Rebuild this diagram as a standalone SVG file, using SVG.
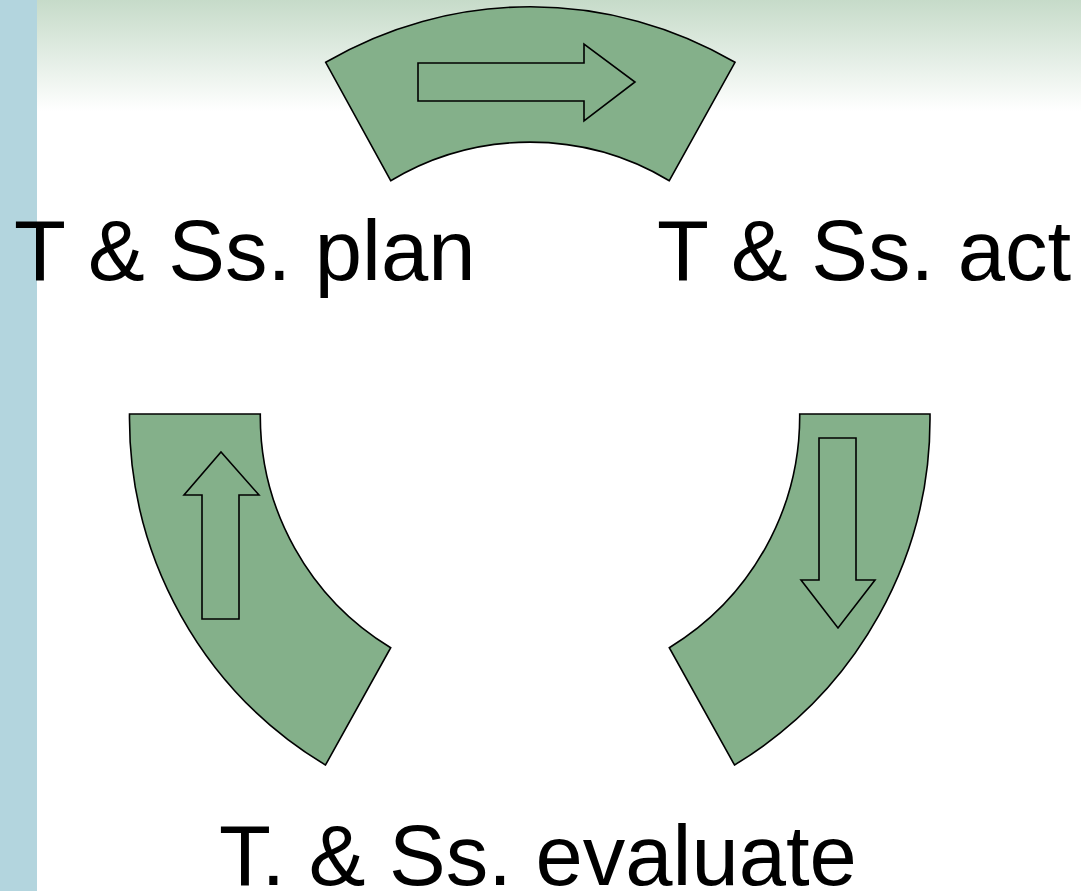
<svg xmlns="http://www.w3.org/2000/svg" width="1081" height="891" viewBox="0 0 1081 891">
  <defs>
    <linearGradient id="topWash" x1="0" y1="0" x2="0" y2="1">
      <stop offset="0" stop-color="#c6dbc9"/>
      <stop offset="1" stop-color="#ffffff"/>
    </linearGradient>
    <style>
      .segment { fill: #84b08a; stroke: #000; stroke-width: 1.6; stroke-linejoin: miter; }
      .arrow { fill: #84b08a; stroke: #000; stroke-width: 1.6; stroke-linejoin: miter; }
      .label { font-family: "Liberation Sans", Arial, sans-serif; font-size: 85px; fill: #000; }
    </style>
  </defs>

  <!-- background -->
  <rect x="0" y="0" width="1081" height="891" fill="#ffffff"/>
  <rect x="0" y="0" width="1081" height="112" fill="url(#topWash)"/>
  <rect x="0" y="0" width="37" height="891" fill="#b3d5de"/>

  <!-- top segment: plan -> act -->
  <g id="segment-top">
    <path class="segment" d="M325.7,62.3 A405,405 0 0 1 735,62.3 L669.3,180.7 A271,271 0 0 0 390.7,180.7 Z"/>
    <path class="arrow" d="M418,63 L584,63 L584,44 L635,82 L584,121 L584,101 L418,101 Z"/>
  </g>

  <!-- right segment: act -> evaluate -->
  <g id="segment-right">
    <path class="segment" d="M930,414 A405,405 0 0 1 734.5,765 L669.3,647.7 A271,271 0 0 0 799.7,414 Z"/>
    <path class="arrow" d="M819,438 L856,438 L856,580 L875,580 L838,628 L801,580 L819,580 Z"/>
  </g>

  <!-- left segment: evaluate -> plan -->
  <g id="segment-left">
    <path class="segment" d="M129.5,414 A405,405 0 0 0 325.5,765 L390.7,647.7 A271,271 0 0 1 260.3,414 Z"/>
    <path class="arrow" d="M202,619 L239,619 L239,495 L259,495 L221,452 L184,495 L202,495 Z"/>
  </g>

  <!-- stage labels -->
  <g id="label-plan"><text class="label" x="14" y="280">T &amp; Ss. plan</text></g>
  <g id="label-act"><text class="label" x="657" y="280">T &amp; Ss. act</text></g>
  <g id="label-evaluate"><text class="label" x="219" y="885">T. &amp; Ss. evaluate</text></g>
</svg>
